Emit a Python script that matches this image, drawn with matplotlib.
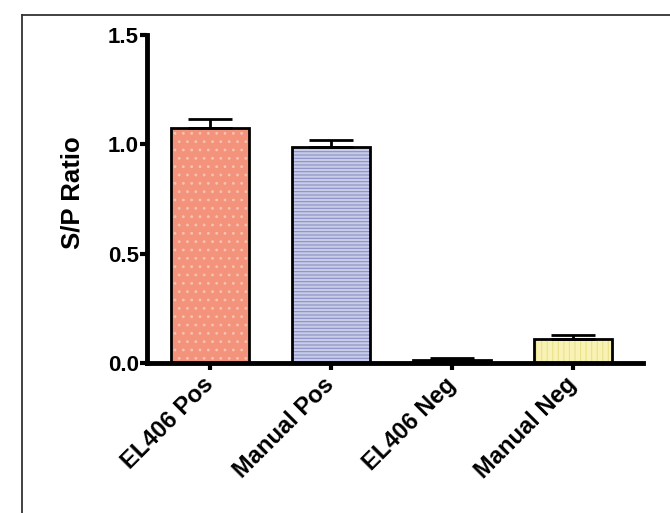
import matplotlib
matplotlib.use("Agg")
import matplotlib.pyplot as plt
from matplotlib.lines import Line2D
import numpy as np

# data
groups = ["EL406 Pos", "Manual Pos", "EL406 Neg", "Manual Neg"]
sp_ratio = [1.075, 0.99, 0.015, 0.11]
sp_err = [0.04, 0.03, 0.01, 0.02]

fill_colors = ["#f3937b", "#c9cce8", "#111111", "#f8f3b4"]
hatch_colors = ["#f8c2b2", "#8a90c4", "#111111", "#ebe189"]
hatches = ["..", "-----", "", "|||"]

plt.rcParams['font.family'] = ['Liberation Sans', 'DejaVu Sans']
plt.rcParams['hatch.linewidth'] = 0.8

fig = plt.figure(figsize=(6.70, 5.13), dpi=100)
ax = fig.add_axes([0.2194, 0.2924, 0.7403, 0.6394])

x = np.arange(len(groups))
width = 0.64

# hatched fill first, then a plain black outline over it
for i in range(len(groups)):
    ax.bar(x[i], sp_ratio[i], width, color=fill_colors[i],
           edgecolor=hatch_colors[i], hatch=hatches[i], linewidth=0, zorder=2)
ax.bar(x, sp_ratio, width, fill=False, edgecolor="black", linewidth=2, zorder=3)

# upper error bars only
ax.errorbar(x, sp_ratio, yerr=[np.zeros(len(x)), sp_err], fmt="none",
            ecolor="black", elinewidth=2, capsize=16, capthick=2, zorder=4)

ax.set_xlim(-0.52, 3.58)
ax.set_ylim(0, 1.5)
ax.set_yticks([0.0, 0.5, 1.0, 1.5])
ax.set_yticklabels(["0.0", "0.5", "1.0", "1.5"], fontsize=16, fontweight="bold")
ax.set_xticks(x)
ax.set_xticklabels(groups, rotation=45, ha="right", va="center",
                   rotation_mode="anchor", fontsize=17, fontweight="bold")
ax.set_ylabel("S/P Ratio", fontsize=18.5, fontweight="bold")
ax.yaxis.set_label_coords(-0.125, 0.52)

for s in ["top", "right"]:
    ax.spines[s].set_visible(False)
for s in ["left", "bottom"]:
    ax.spines[s].set_linewidth(3.5)
ax.tick_params(axis="both", direction="out", length=5, width=3, pad=1)
ax.tick_params(axis="x", pad=8)

# outer frame (left and top edges of the cropped figure box)
fig.add_artist(Line2D([22 / 670, 22 / 670], [0, 1 - 15 / 513],
                      transform=fig.transFigure, color="#333333", lw=1.3))
fig.add_artist(Line2D([22 / 670, 1], [1 - 15 / 513, 1 - 15 / 513],
                      transform=fig.transFigure, color="#333333", lw=1.3))

fig.savefig("out.png", dpi=100, facecolor="white")
